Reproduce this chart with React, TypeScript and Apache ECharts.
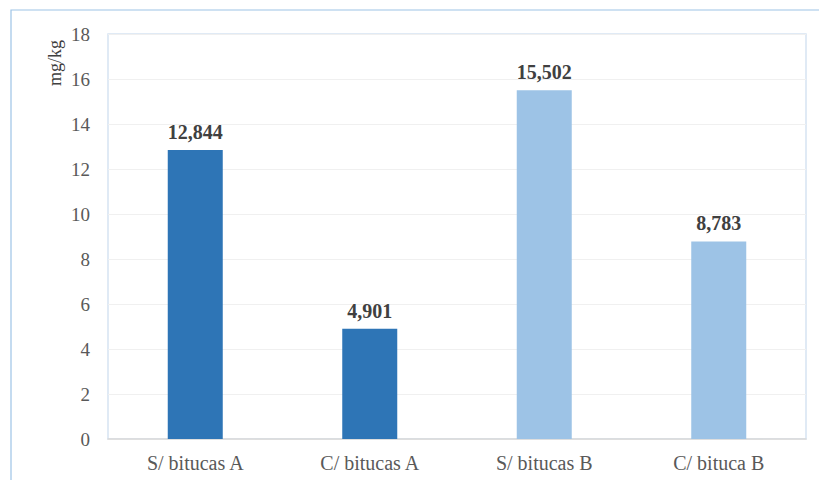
import React, { useEffect, useRef } from "react";
import * as echarts from "echarts";

const categories = ["S/ bitucas A", "C/ bitucas A", "S/ bitucas B", "C/ bituca B"];
const values = [12.844, 4.901, 15.502, 8.783];
const barColors = ["#2E75B6", "#2E75B6", "#9DC3E6", "#9DC3E6"];
const yAxisName = "mg/kg";

export default function App() {
  const ref = useRef<HTMLDivElement>(null);
  useEffect(() => {
    const chart = echarts.init(ref.current!, null, { renderer: "svg" });
    chart.setOption({
      animation: false,
      backgroundColor: "#ffffff",
      grid: {
        left: 108,
        top: 34,
        right: 13,
        bottom: 41,
        show: true,
        borderColor: "#D6E4F2",
        borderWidth: 1.5,
      },
      xAxis: {
        type: "category",
        data: categories,
        axisLine: { lineStyle: { color: "#D9D9D9", width: 1.5 } },
        axisTick: { show: false },
        axisLabel: {
          fontFamily: "Liberation Serif",
          fontSize: 20,
          color: "#595959",
          margin: 14,
        },
      },
      yAxis: {
        type: "value",
        min: 0,
        max: 18,
        interval: 2,
        axisLine: { show: false },
        axisTick: { show: false },
        splitLine: { lineStyle: { color: "#F0F0F0", width: 1 } },
        axisLabel: {
          fontFamily: "Liberation Serif",
          fontSize: 19,
          color: "#595959",
          margin: 18,
        },
      },
      series: [
        {
          type: "bar",
          barWidth: 55,
          data: values.map((v, i) => ({ value: v, itemStyle: { color: barColors[i] } })),
          label: {
            show: true,
            position: "top",
            distance: 8,
            fontFamily: "Liberation Serif",
            fontWeight: "bold",
            fontSize: 20,
            color: "#404040",
            formatter: (p: any) => p.value.toFixed(3).replace(".", ","),
          },
        },
      ],
      graphic: [
        {
          type: "rect",
          shape: { x: 11, y: 10, width: 900, height: 600 },
          style: { fill: "none", stroke: "#9DC3E6", lineWidth: 1.2 },
          silent: true,
        },
        {
          type: "text",
          x: 55,
          y: 63,
          rotation: Math.PI / 2,
          style: {
            text: yAxisName,
            fontFamily: "Liberation Serif",
            fontSize: 18,
            fill: "#404040",
            align: "center",
            verticalAlign: "middle",
          },
        },
      ],
    });
    return () => chart.dispose();
  }, []);
  return (
    <div
      ref={ref}
      style={{ position: "absolute", left: 0, top: 0, width: 819, height: 480 }}
    />
  );
}
